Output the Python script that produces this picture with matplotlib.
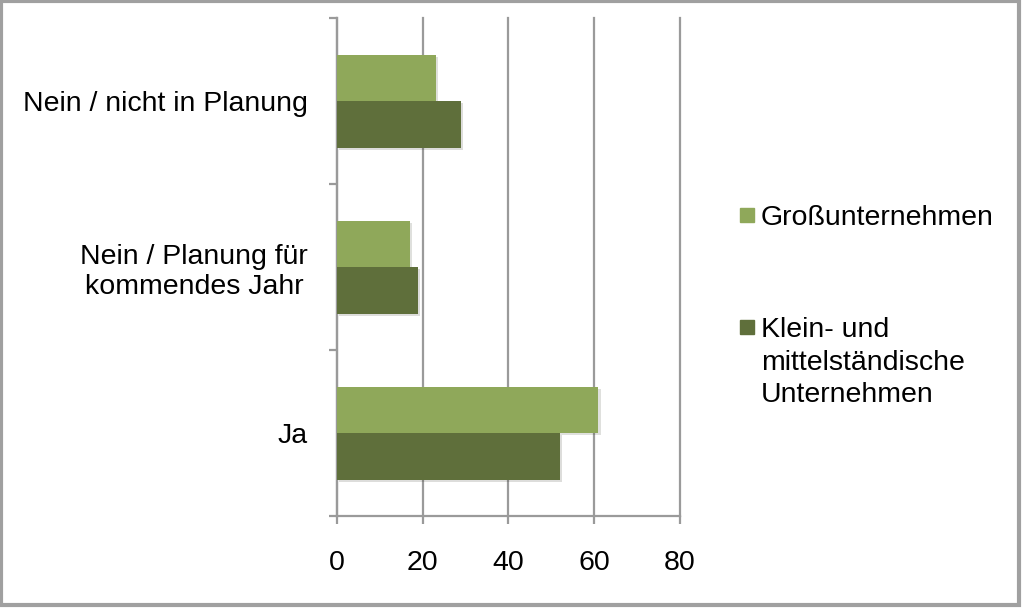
import matplotlib.pyplot as plt
import matplotlib.patheffects as pe
import numpy as np

plt.rcParams['font.family'] = ['Liberation Sans', 'DejaVu Sans']

# Data
categories = ['Ja', 'Nein / Planung für\nkommendes Jahr', 'Nein / nicht in Planung']
gross = [61, 17, 23]
kmu = [52, 19, 29]
series_names = ['Großunternehmen', 'Klein- und\nmittelständische\nUnternehmen']

col_light = '#8fa85a'
col_dark = '#5f6f3b'
grid_col = '#9a9a9a'
fs = 20.5

fig = plt.figure(figsize=(10.24, 6.08), dpi=100)
ax = fig.add_axes([0.329, 0.151, 0.335, 0.819])

y = np.arange(len(categories))
h = 0.28
shadow = [pe.SimplePatchShadow(offset=(1.5, -1.5), alpha=0.15), pe.Normal()]
b1 = ax.barh(y + h / 2, gross, height=h, color=col_light, label=series_names[0], zorder=3)
b2 = ax.barh(y - h / 2, kmu, height=h, color=col_dark, label=series_names[1], zorder=3)
for bar in list(b1) + list(b2):
    bar.set_path_effects(shadow)

ax.set_xlim(0, 80)
ax.set_ylim(-0.5, 2.5)
ax.set_xticks([0, 20, 40, 60, 80])
ax.xaxis.grid(True, color=grid_col, linewidth=1.6, zorder=0)
for gl in ax.get_xgridlines():
    gl.set_clip_on(False)

# y-axis: ticks at category boundaries, labels centered between
ax.set_yticks([-0.5, 0.5, 1.5, 2.5])
ax.set_yticklabels([])
ax.set_yticks(y, minor=True)
ax.set_yticklabels(categories, minor=True, fontsize=fs, ha='right', multialignment='center')
ax.tick_params(axis='y', which='minor', length=0, pad=21)
ax.tick_params(axis='y', which='major', length=5.5, width=1.6, color=grid_col)
ax.tick_params(axis='x', length=5.5, width=1.6, color=grid_col, labelsize=fs, pad=19)

for side in ['top', 'right']:
    ax.spines[side].set_visible(False)
for side in ['left', 'bottom']:
    ax.spines[side].set_color(grid_col)
    ax.spines[side].set_linewidth(1.6)

# legend: square aligned with the first text line
W, H = 1024, 608
legend_rows = [(series_names[0], col_light, 215), (series_names[1], col_dark, 327)]
for label, col, ypx in legend_rows:
    fig.patches.append(plt.Rectangle((740 / W, 1 - (ypx + 7) / H), 14 / W, 14 / H,
                                     transform=fig.transFigure, color=col))
    fig.text(761 / W, 1 - (ypx - 10) / H, label, fontsize=fs, va='top', ha='left',
             linespacing=1.33)

# outer frame
fig.patches.append(plt.Rectangle((0.001, 0.005), 0.994, 0.994, transform=fig.transFigure,
                                 fill=False, edgecolor='#a0a0a0', linewidth=3))

fig.savefig('out.png', dpi=100)
